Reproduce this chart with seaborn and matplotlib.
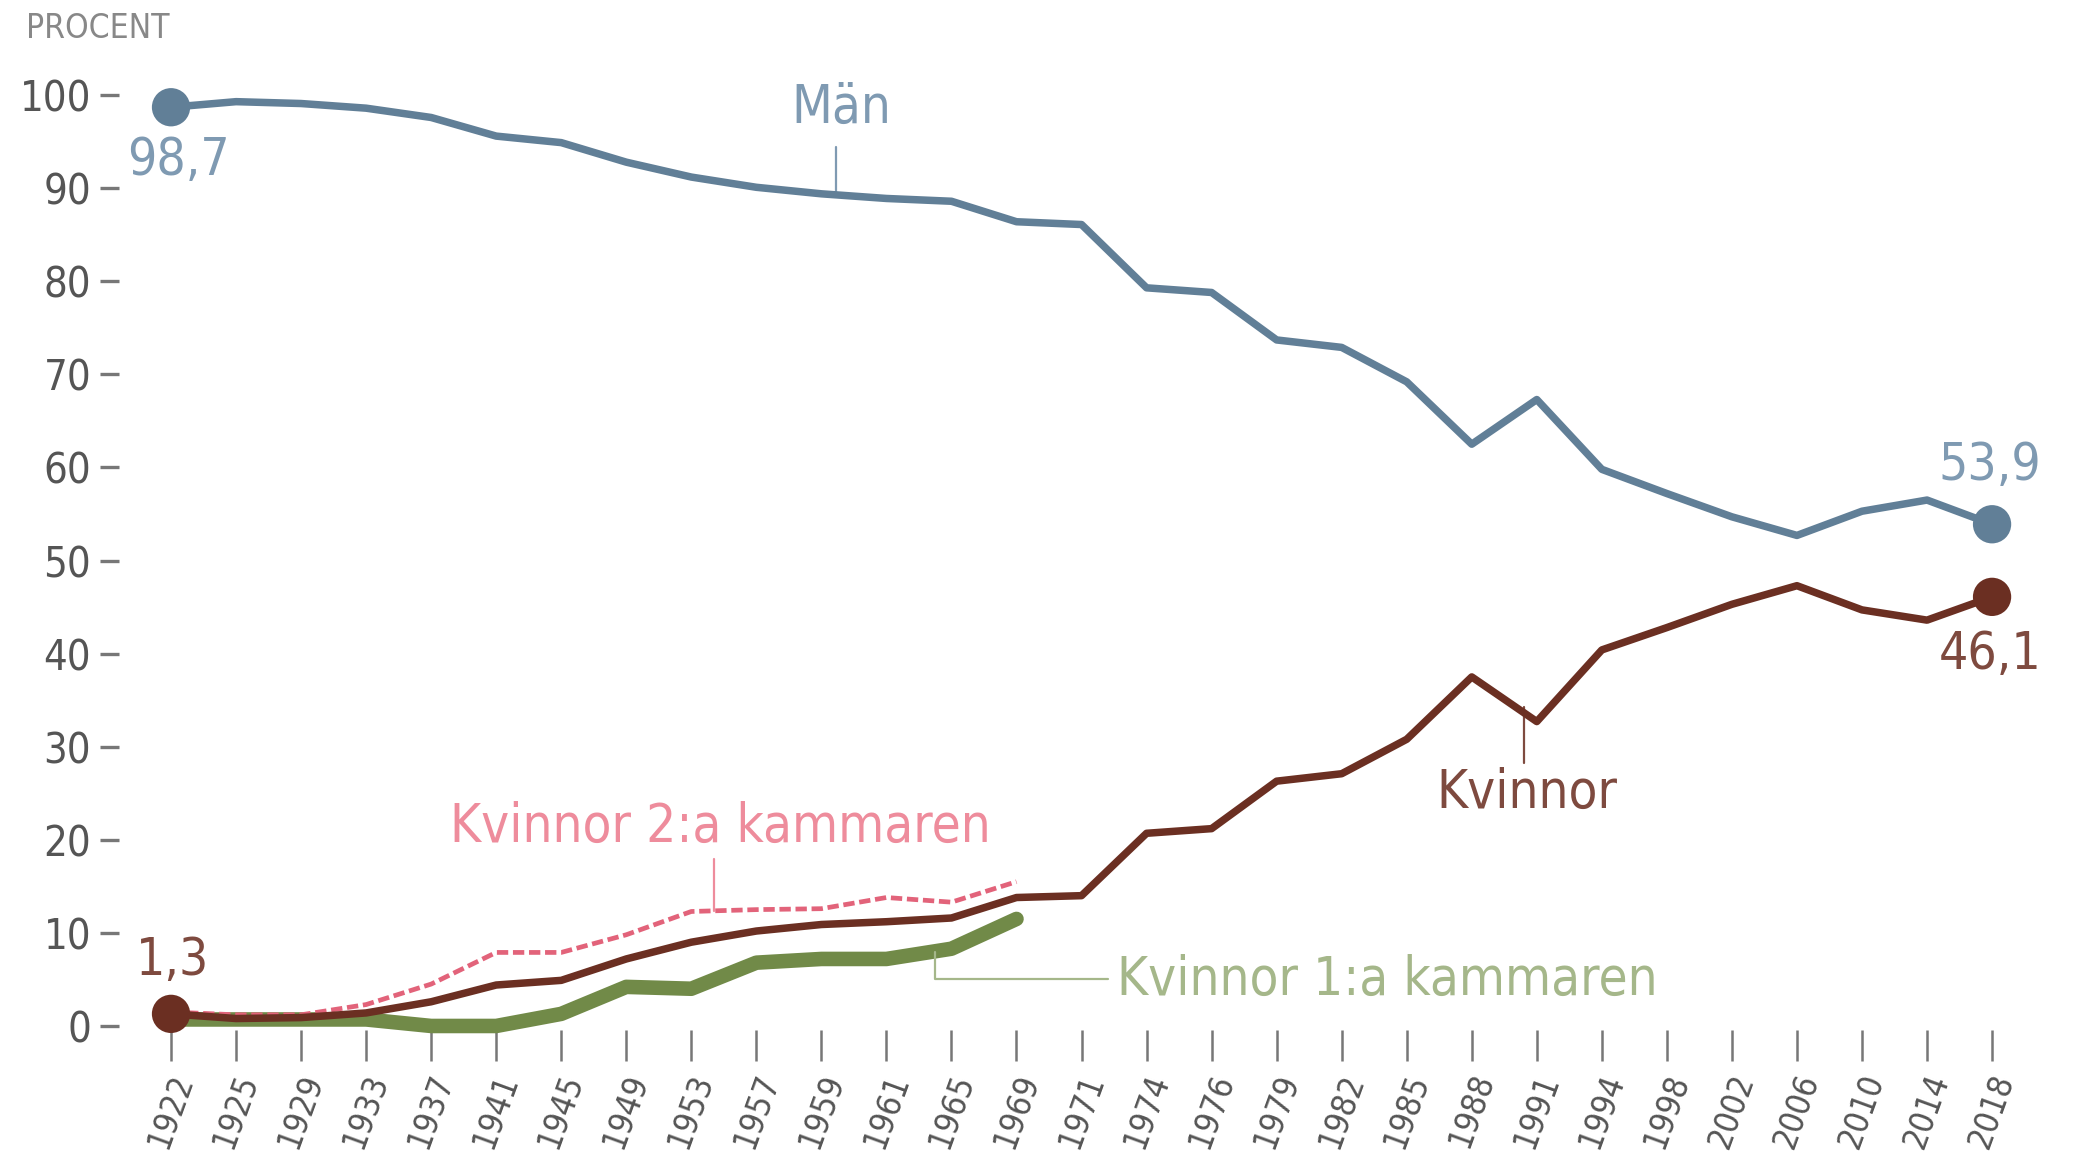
#!/usr/bin/env python3
import pandas as pd
import seaborn as sns
import matplotlib.pyplot as plt

# ---------- Data ----------
YEARS = ["1922", "1925", "1929", "1933", "1937", "1941", "1945", "1949", "1953",
         "1957", "1959", "1961", "1965", "1969", "1971", "1974", "1976", "1979",
         "1982", "1985", "1988", "1991", "1994", "1998", "2002", "2006", "2010",
         "2014", "2018"]

MAN = [98.7, 99.3, 99.1, 98.6, 97.6, 95.6, 94.9, 92.8, 91.2, 90.1, 89.4, 88.9,
       88.6, 86.4, 86.1, 79.3, 78.8, 73.7, 72.9, 69.2, 62.5, 67.3, 59.8, 57.2,
       54.7, 52.7, 55.3, 56.5, 53.9]

KVINNOR = [1.3, 0.8, 0.9, 1.4, 2.6, 4.4, 4.9, 7.2, 9.0, 10.2, 10.9, 11.2, 11.6,
           13.8, 14.0, 20.7, 21.2, 26.3, 27.1, 30.8, 37.5, 32.7, 40.4, 42.8,
           45.3, 47.3, 44.7, 43.6, 46.1]

KVINNOR_2A = [1.5, 1.2, 1.2, 2.3, 4.5, 7.9, 7.9, 9.8, 12.3, 12.5, 12.6, 13.8,
              13.3, 15.5]

KVINNOR_1A = [0.7, 0.7, 0.7, 0.7, 0.0, 0.0, 1.3, 4.2, 4.0, 6.8, 7.2, 7.2, 8.3,
              11.5]

# ---------- Colours ----------
C_MAN = "#617f97"
C_MAN_TXT = "#7f9ab2"
C_KV = "#6b2f22"
C_KV_TXT = "#7e4a3f"
C_K2 = "#e2637a"
C_K2_TXT = "#ee8c9c"
C_K1 = "#718a48"
C_K1_TXT = "#a5b78a"
C_AXIS = "#555555"


def main() -> int:
    sns.set_style("white")
    plt.rcParams["font.family"] = ["DejaVu Sans"]
    plt.rcParams["font.stretch"] = "condensed"

    pos = list(range(len(YEARS)))
    df = pd.DataFrame({"pos": pos, "man": MAN, "kv": KVINNOR})
    df_old = pd.DataFrame({"pos": pos[:len(KVINNOR_2A)],
                           "k2": KVINNOR_2A, "k1": KVINNOR_1A})

    fig = plt.figure(figsize=(20.73, 11.53), dpi=100)
    ax = fig.add_axes([0.0574, 0.1067, 0.9412, 0.835])

    # lines
    sns.lineplot(data=df_old, x="pos", y="k1", ax=ax, color=C_K1, lw=10.5,
                 clip_on=False, zorder=2)
    sns.lineplot(data=df_old, x="pos", y="k2", ax=ax, color=C_K2, lw=3.4,
                 dashes=(2.4, 1.0), clip_on=False, zorder=3)
    sns.lineplot(data=df, x="pos", y="kv", ax=ax, color=C_KV, lw=5.4,
                 clip_on=False, zorder=4)
    sns.lineplot(data=df, x="pos", y="man", ax=ax, color=C_MAN, lw=5.4,
                 clip_on=False, zorder=4)

    # end points
    ends = pd.DataFrame({"pos": [pos[0], pos[-1], pos[0], pos[-1]],
                         "val": [MAN[0], MAN[-1], KVINNOR[0], KVINNOR[-1]],
                         "grp": ["m", "m", "k", "k"]})
    sns.scatterplot(data=ends, x="pos", y="val", hue="grp",
                    palette={"m": C_MAN, "k": C_KV}, s=760, linewidth=0,
                    legend=False, ax=ax, clip_on=False, zorder=5)

    # value labels
    ax.text(0.12, 92.9, "98,7", color=C_MAN_TXT, fontsize=37, ha="center", va="center")
    ax.text(27.97, 60.2, "53,9", color=C_MAN_TXT, fontsize=37, ha="center", va="center")
    ax.text(0.02, 7.0, "1,3", color=C_KV_TXT, fontsize=37, ha="center", va="center")
    ax.text(27.97, 39.9, "46,1", color=C_KV_TXT, fontsize=37, ha="center", va="center")

    # series labels with leader lines
    ax.text(10.3, 98.6, "Män", color=C_MAN_TXT, fontsize=38, ha="center", va="center")
    ax.plot([10.22, 10.22], [89.3, 94.4], color=C_MAN_TXT, lw=1.6)

    ax.text(20.85, 25.0, "Kvinnor", color=C_KV_TXT, fontsize=38, ha="center", va="center")
    ax.plot([20.8, 20.8], [34.3, 28.2], color=C_KV_TXT, lw=1.6)

    ax.text(8.45, 21.4, "Kvinnor 2:a kammaren", color=C_K2_TXT, fontsize=38,
            ha="center", va="center")
    ax.plot([8.35, 8.35], [12.4, 17.9], color=C_K2_TXT, lw=1.6)

    ax.text(14.55, 5.0, "Kvinnor 1:a kammaren", color=C_K1_TXT, fontsize=38,
            ha="left", va="center")
    ax.plot([11.75, 11.75, 14.4], [7.9, 5.0, 5.0], color=C_K1_TXT, lw=1.6)

    # axes
    ax.set_xlim(-0.8, 29.2)
    ax.set_ylim(-0.43, 103)
    ax.set_yticks(range(0, 101, 10))
    ax.set_xticks(pos)
    ax.set_xticklabels(YEARS, rotation=70)
    ax.set_xlabel("")
    ax.set_ylabel("")
    sns.despine(ax=ax, left=True, bottom=True)
    ax.tick_params(axis="y", direction="out", length=14, width=2.4, pad=6,
                   color="#777777", labelcolor=C_AXIS, labelsize=30, left=True)
    ax.tick_params(axis="x", direction="out", length=22, width=1.8, pad=6,
                   color="#777777", labelcolor=C_AXIS, labelsize=24, bottom=True)

    fig.text(0.0125, 0.975, "PROCENT", color="#888888", fontsize=24,
             ha="left", va="center")

    fig.savefig("out.png", dpi=100)
    plt.close(fig)
    return 0


if __name__ == "__main__":
    raise SystemExit(main())
